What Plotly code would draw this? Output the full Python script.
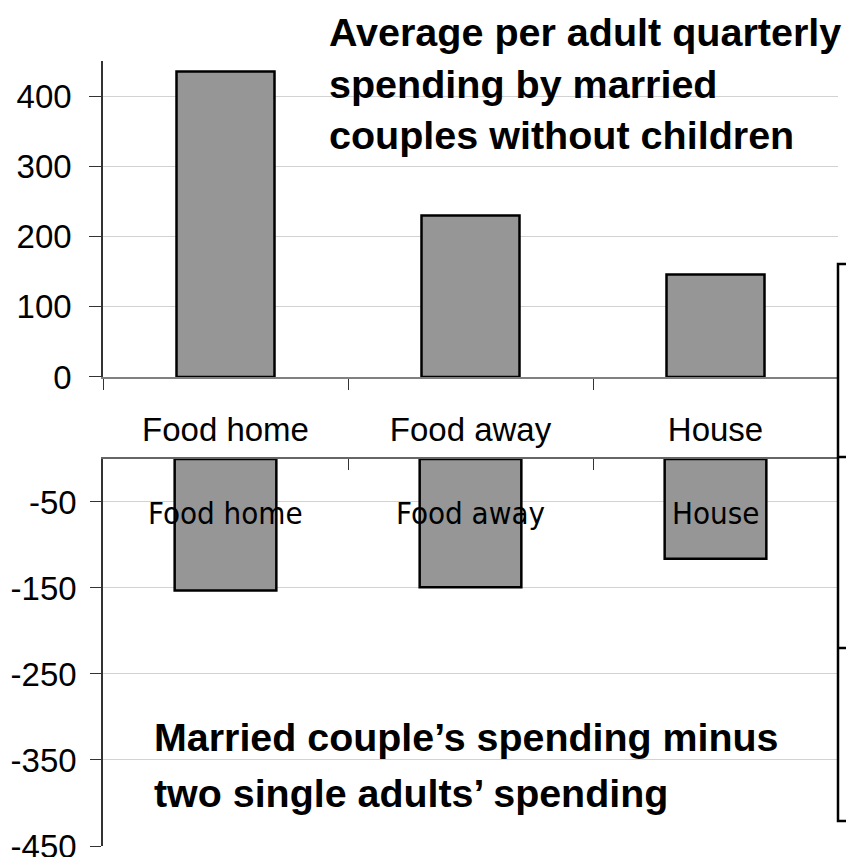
import plotly.graph_objects as go

# Spending categories and values (dollars per adult per quarter)
categories = ["Food home", "Food away", "House"]
couple_avg = [435, 230, 146]
couple_minus_singles = [-153, -149, -116]

top_ticks = [0, 100, 200, 300, 400]
bottom_ticks = [-50, -150, -250, -350, -450]
bottom_tick_text = ["-50", "-150", "-250", "-350", "-450"]

top_title_lines = ["Average per adult quarterly", "spending by married",
                   "couples without children"]
bottom_title_lines = ["Married couple’s spending minus", "two single adults’ spending"]

BAR_FILL = "#969696"
FONT = "Liberation Sans, Arial, sans-serif"
CONDENSED = "DejaVu Sans Condensed, Liberation Sans, sans-serif"

fig = go.Figure()

fig.add_trace(go.Bar(
    x=categories, y=couple_avg, width=0.4,
    marker=dict(color=BAR_FILL, line=dict(color="black", width=2.5)),
    xaxis="x", yaxis="y", hoverinfo="x+y",
))
fig.add_trace(go.Bar(
    x=categories, y=couple_minus_singles, width=0.415,
    marker=dict(color=BAR_FILL, line=dict(color="black", width=2.5)),
    xaxis="x2", yaxis="y2", hoverinfo="x+y",
))

# Category labels inside the lower panel, drawn over the bars
annotations = [
    dict(x=c, y=-63, xref="x2", yref="y2", text=c, showarrow=False,
         xanchor="center", yanchor="middle",
         font=dict(family=CONDENSED, size=31, color="black"))
    for c in categories
]

# Panel headings, one annotation per line
top_line_y = [1.0675, 1.0018, 0.9359]
for line, yy in zip(top_title_lines, top_line_y):
    annotations.append(dict(
        x=0.3048, y=yy, xref="paper", yref="paper", text=line,
        showarrow=False, xanchor="left", yanchor="top",
        font=dict(family=FONT, size=39.5, color="black", weight="bold")))

bottom_line_y = [0.1688, 0.0987]
for line, yy in zip(bottom_title_lines, bottom_line_y):
    annotations.append(dict(
        x=0.0666, y=yy, xref="paper", yref="paper", text=line,
        showarrow=False, xanchor="left", yanchor="top",
        font=dict(family=FONT, size=39.4, color="black", weight="bold")))

# Frame of the table at the right edge
frame = dict(color="black", width=2.5)
shapes = [
    dict(type="rect", xref="paper", yref="paper", x0=1.0, x1=1.05,
         y0=0.0318, y1=0.7414, line=frame),
    dict(type="line", xref="paper", yref="paper", x0=1.0, x1=1.05,
         y0=0.4955, y1=0.4955, line=frame),
    dict(type="line", xref="paper", yref="paper", x0=1.0, x1=1.05,
         y0=0.2522, y1=0.2522, line=frame),
]

fig.update_layout(
    width=846, height=857,
    margin=dict(l=103, r=8, t=61, b=11, autoexpand=False),
    paper_bgcolor="white", plot_bgcolor="white",
    showlegend=False,
    font=dict(family=FONT, size=33, color="black"),
    xaxis=dict(
        domain=[0, 1], anchor="y", type="category", range=[-0.5, 2.5],
        tickson="boundaries", ticks="outside", ticklen=11, tickcolor="#333",
        showline=True, linecolor="#808080", linewidth=1.5,
        showgrid=False, tickfont=dict(size=33), ticklabelstandoff=23,
        automargin=False,
    ),
    yaxis=dict(
        domain=[0.5975, 1], anchor="x", range=[0, 450], tickvals=top_ticks,
        ticks="outside", ticklen=12, tickcolor="#333",
        showline=True, linecolor="#333", linewidth=1.5,
        showgrid=True, gridcolor="#d2d2d2", gridwidth=1, zeroline=False,
        tickfont=dict(size=33), ticklabelstandoff=11, automargin=False,
        ticklabeloverflow="allow",
    ),
    xaxis2=dict(
        domain=[0, 1], anchor="y2", type="category", range=[-0.5, 2.5],
        side="top", tickson="boundaries", ticks="inside", ticklen=11,
        tickcolor="#333", showline=True, linecolor="#666", linewidth=1.5,
        showgrid=False, showticklabels=False, automargin=False,
    ),
    yaxis2=dict(
        domain=[0, 0.493], anchor="x2", range=[-450, 0],
        tickvals=bottom_ticks, ticktext=bottom_tick_text,
        ticks="outside", ticklen=11, tickcolor="#333",
        showline=True, linecolor="#333", linewidth=1.5,
        showgrid=True, gridcolor="#d2d2d2", gridwidth=1, zeroline=False,
        tickfont=dict(size=33), ticklabelstandoff=7, automargin=False,
        ticklabeloverflow="allow",
    ),
    annotations=annotations,
    shapes=shapes,
)

fig.write_html("out.html")
